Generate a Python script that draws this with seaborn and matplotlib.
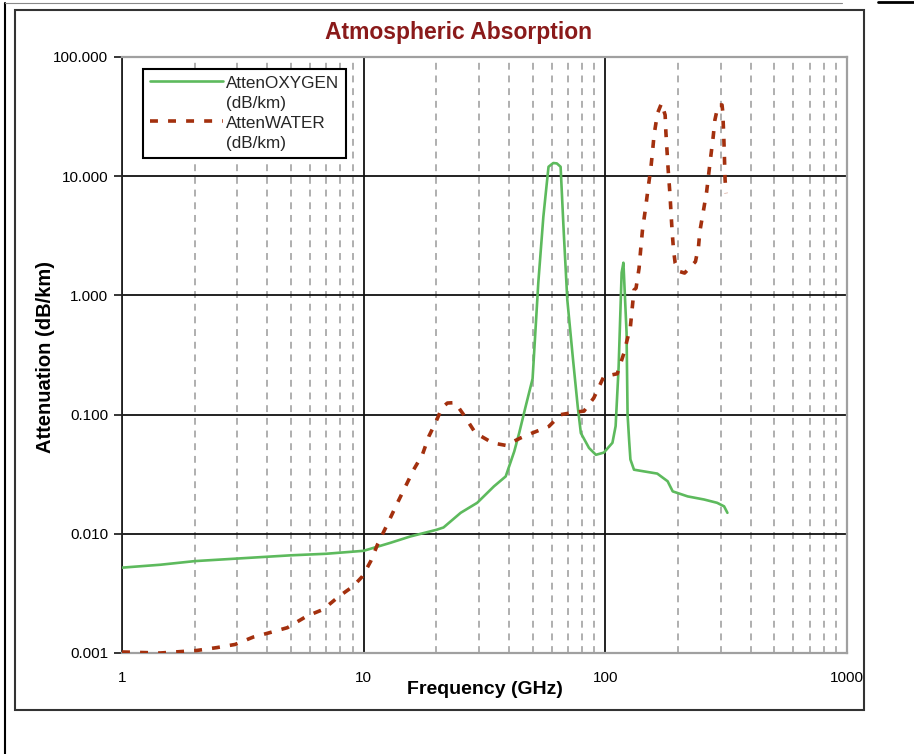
import numpy as np
import pandas as pd
import matplotlib
matplotlib.use("Agg")
import matplotlib.pyplot as plt
import matplotlib.ticker as mticker
from matplotlib.patches import Rectangle
from matplotlib.lines import Line2D
from matplotlib.legend_handler import HandlerLine2D
import seaborn as sns

# ---------------- data ----------------
freq_oxygen = [1.0, 1.44, 2.0, 3.0, 5.0, 7.0, 10.0, 12.9, 15.6, 20.0, 21.4, 25.2,
               29.5, 34.6, 38.7, 42.0, 44.0, 46.8, 50.0, 52.8, 55.4, 57.0, 58.2,
               60.9, 63.0, 65.3, 67.3, 69.6, 73.5, 76.9, 79.2, 85.6, 91.4, 98.6,
               107.0, 110.3, 113.5, 116.8, 118.8, 122.4, 123.6, 125.5, 127.0,
               131.4, 144.4, 164.0, 181.0, 190.0, 219.0, 256.0, 290.0, 310.0, 320.0]
atten_oxygen = [0.0052, 0.0055, 0.0059, 0.0062, 0.0066, 0.0068, 0.0072, 0.0084,
                0.0095, 0.0108, 0.0113, 0.0150, 0.0182, 0.0250, 0.0303, 0.0492,
                0.070, 0.117, 0.20, 1.28, 4.56, 8.0, 12.0, 12.9, 12.8, 12.0, 3.35,
                0.92, 0.29, 0.116, 0.070, 0.0525, 0.046, 0.048, 0.058, 0.080, 0.25,
                1.55, 1.88, 0.49, 0.10, 0.06, 0.042, 0.0345, 0.0334, 0.032, 0.0276,
                0.0227, 0.0206, 0.0194, 0.0182, 0.0170, 0.0150]

freq_water = [1.0, 1.44, 2.04, 2.47, 2.94, 3.49, 3.98, 4.83, 5.82, 6.8, 7.86, 9.05,
              9.9, 10.7, 11.4, 12.5, 13.8, 14.9, 16.1, 17.5, 18.6, 19.8, 21.1, 22.2,
              23.9, 25.9, 29.0, 34.2, 38.7, 44.6, 49.9, 58.4, 65.4, 74.4, 81.6, 89.6,
              98.6, 112.0, 119.4, 127.0, 131.4, 134.0, 137.9, 140.2, 142.5, 147.0,
              150.3, 154.3, 156.8, 159.1, 164.4, 170.8, 176.8, 178.0, 179.7, 182.0,
              185.2, 187.0, 189.0, 191.5, 194.5, 202.0, 212.8, 236.0, 243.0, 246.0,
              255.0, 262.6, 268.0, 272.6, 279.5, 284.0, 293.0, 304.0, 306.0, 309.0,
              311.0, 313.0, 316.0]
atten_water = [0.00102, 0.00100, 0.00105, 0.00111, 0.00118, 0.00136, 0.00146,
               0.00163, 0.00204, 0.00232, 0.00296, 0.00363, 0.00441, 0.0059, 0.0081,
               0.0119, 0.0182, 0.025, 0.0345, 0.0461, 0.0656, 0.0851, 0.114, 0.125,
               0.126, 0.100, 0.0701, 0.0578, 0.0552, 0.0637, 0.0701, 0.0796, 0.100,
               0.1045, 0.107, 0.138, 0.209, 0.22, 0.328, 0.548, 1.11, 1.15, 1.69,
               2.49, 3.55, 5.56, 7.94, 11.7, 16.1, 22.2, 33.7, 40.9, 32.6, 23.7, 17.2,
               11.3, 6.97, 4.9, 3.43, 2.41, 1.87, 1.59, 1.54, 1.92, 2.57, 3.43, 5.22,
               7.43, 10.6, 14.2, 21.5, 29.6, 39.6, 39.6, 35.0, 22.0, 14.6, 9.3, 7.2]

x_ticks = [1, 10, 100, 1000]
x_tick_labels = ["1", "10", "100", "1000"]
y_ticks = [0.001, 0.01, 0.1, 1, 10, 100]
y_tick_labels = ["0.001", "0.010", "0.100", "1.000", "10.000", "100.000"]

label_oxygen = "AttenOXYGEN\n(dB/km)"
label_water = "AttenWATER\n(dB/km)"
title = "Atmospheric Absorption"
xlabel = "Frequency (GHz)"
ylabel = "Attenuation (dB/km)"

# ---------------- style ----------------
sns.set_style("white")
plt.rcParams["font.family"] = ["Liberation Sans", "DejaVu Sans"]

W, H = 914, 754
fig = plt.figure(figsize=(W / 100, H / 100), dpi=100)
fig.patch.set_facecolor("white")

ax = fig.add_axes([122 / W, (H - 653) / H, (847 - 122) / W, (653 - 57) / H])

df_o = pd.DataFrame({"f": freq_oxygen, "a": atten_oxygen})
df_w = pd.DataFrame({"f": freq_water, "a": atten_water})

green = "#5dba5d"
rust = "#a3300e"

sns.lineplot(data=df_o, x="f", y="a", ax=ax, color=green, lw=1.9,
             estimator=None, sort=False, label=label_oxygen, zorder=4)
sns.lineplot(data=df_w, x="f", y="a", ax=ax, color=rust, lw=2.6,
             estimator=None, sort=False, label=label_water, zorder=5)
ax.lines[-1].set_dashes([2.2, 2.8])

ax.set_xscale("log")
ax.set_yscale("log")
ax.set_xlim(1, 1000)
ax.set_ylim(0.001, 100)

ax.xaxis.set_major_locator(mticker.FixedLocator(x_ticks))
ax.xaxis.set_major_formatter(mticker.FixedFormatter(x_tick_labels))
ax.xaxis.set_minor_locator(mticker.LogLocator(base=10, subs=range(2, 10)))
ax.xaxis.set_minor_formatter(mticker.NullFormatter())
ax.yaxis.set_major_locator(mticker.FixedLocator(y_ticks))
ax.yaxis.set_major_formatter(mticker.FixedFormatter(y_tick_labels))
ax.yaxis.set_minor_locator(mticker.NullLocator())

ax.grid(which="major", axis="both", color="#111111", lw=1.3)
ax.grid(which="minor", axis="x", color="#9a9a9a", lw=1.1, linestyle=(0, (4.5, 3.8)))
ax.set_axisbelow(True)

ax.tick_params(axis="x", which="both", length=0, pad=13, labelsize=11, colors="black")
ax.tick_params(axis="y", which="major", length=6, width=1.1, pad=4, labelsize=11,
               left=True, direction="out", colors="black")

for side in ["top", "right", "bottom"]:
    ax.spines[side].set_color("#a0a0a0")
    ax.spines[side].set_linewidth(1.6)
ax.spines["left"].set_color("#222222")
ax.spines["left"].set_linewidth(1.3)

ax.set_xlabel("")
ax.set_ylabel("")


class TopLineHandler(HandlerLine2D):
    """Place the legend sample beside the first text line."""
    def create_artists(self, legend, orig_handle, xdescent, ydescent, width,
                       height, fontsize, trans):
        arts = super().create_artists(legend, orig_handle, xdescent, ydescent,
                                      width, height, fontsize, trans)
        for a in arts:
            a.set_ydata(np.asarray(a.get_ydata()) + 0.72 * fontsize)
        return arts


handles, labels = ax.get_legend_handles_labels()
leg = ax.legend(handles, labels, loc="upper left",
                bbox_to_anchor=(143 / W, 1 - 69 / H),
                bbox_transform=fig.transFigure, fontsize=12.3, frameon=True,
                fancybox=False, framealpha=1, edgecolor="black",
                handlelength=4.3, handletextpad=0.15, labelspacing=0.3,
                borderpad=0.4, borderaxespad=0,
                handler_map={h: TopLineHandler() for h in handles})
leg.get_frame().set_linewidth(1.5)
for t in leg.get_texts():
    t.set_linespacing(1.42)

fig.text(459 / W, 1 - 33 / H, title, ha="center", va="center",
         fontsize=16.5, fontweight="bold", color="#8a1a1a")
fig.text(485 / W, 1 - 689 / H, xlabel, ha="center", va="center",
         fontsize=14, fontweight="bold", color="black")
fig.text(46 / W, 1 - 357 / H, ylabel, ha="center", va="center", rotation=90,
         fontsize=14.5, fontweight="bold", color="black")

# chart frame and outer page lines
fig.add_artist(Rectangle((15 / W, 1 - 710 / H), 849 / W, 700 / H, fill=False,
                         edgecolor="#333333", lw=1.5, transform=fig.transFigure))
fig.add_artist(Line2D([5 / W, 5 / W], [0, 1 - 3 / H], color="black", lw=1.5,
                      transform=fig.transFigure))
fig.add_artist(Line2D([5 / W, 842 / W], [1 - 3 / H, 1 - 3 / H], color="#888888",
                      lw=0.8, transform=fig.transFigure))
fig.add_artist(Line2D([878 / W, 1], [1 - 2 / H, 1 - 2 / H], color="black",
                      lw=2.0, transform=fig.transFigure))

fig.savefig("out.png", dpi=100)
